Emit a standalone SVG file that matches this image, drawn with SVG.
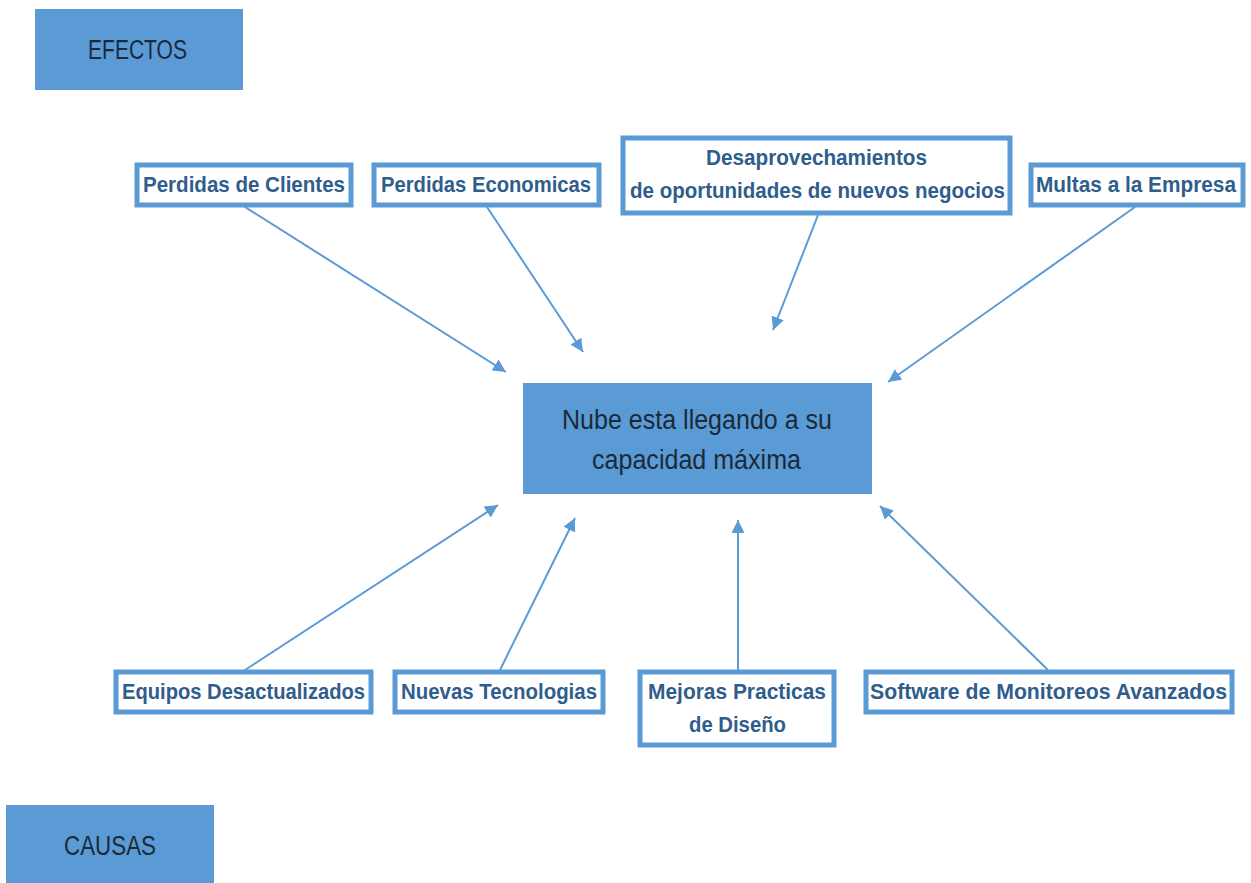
<svg xmlns="http://www.w3.org/2000/svg" width="1251" height="883" viewBox="0 0 1251 883">
<style>
.hdr{fill:#5b9bd5}
.box{fill:#ffffff;stroke:#5b9bd5;stroke-width:5}
.t{font-family:"Liberation Sans Narrow","Liberation Sans",Arial,sans-serif;font-weight:bold;font-size:22px;fill:#2f5d8c}
.h{font-family:"Liberation Sans",Arial,sans-serif;font-size:27px;fill:#1a2a3a}
.c{font-family:"Liberation Sans",Arial,sans-serif;font-size:27px;fill:#1a2a3a}
.con line{stroke:#5b9bd5;stroke-width:2}
</style>
<defs>
<marker id="ah" viewBox="0 0 10 10" refX="10" refY="5" markerWidth="13" markerHeight="13" markerUnits="userSpaceOnUse" orient="auto">
<path d="M0,0 L10,5 L0,10 z" fill="#5b9bd5"/>
</marker>
</defs>
<rect width="1251" height="883" fill="#ffffff"/>
<g id="efectos">
<rect class="hdr" x="35" y="9" width="208" height="81"/>
<text class="h" x="88" y="59" textLength="99" lengthAdjust="spacingAndGlyphs">EFECTOS</text>
</g>
<g id="causas">
<rect class="hdr" x="6" y="805" width="208" height="78"/>
<text class="h" x="64" y="855" textLength="92" lengthAdjust="spacingAndGlyphs">CAUSAS</text>
</g>
<g id="center">
<rect class="hdr" x="523" y="383" width="349" height="111"/>
<text class="c" x="562" y="429" textLength="270" lengthAdjust="spacingAndGlyphs">Nube esta llegando a su</text>
<text class="c" x="592" y="469" textLength="209" lengthAdjust="spacingAndGlyphs">capacidad máxima</text>
</g>
<g id="e1">
<rect class="box" x="137" y="165" width="214" height="40"/>
<text class="t" x="143" y="192" textLength="202" lengthAdjust="spacingAndGlyphs">Perdidas de Clientes</text>
</g>
<g id="e2">
<rect class="box" x="374" y="165" width="225" height="40"/>
<text class="t" x="381" y="192" textLength="210" lengthAdjust="spacingAndGlyphs">Perdidas Economicas</text>
</g>
<g id="e3">
<rect class="box" x="623" y="138" width="387" height="75"/>
<text class="t" x="706" y="165" textLength="221" lengthAdjust="spacingAndGlyphs">Desaprovechamientos</text>
<text class="t" x="630" y="198" textLength="375" lengthAdjust="spacingAndGlyphs">de oportunidades de nuevos negocios</text>
</g>
<g id="e4">
<rect class="box" x="1031" y="165" width="212" height="40"/>
<text class="t" x="1036" y="192" textLength="200" lengthAdjust="spacingAndGlyphs">Multas a la Empresa</text>
</g>
<g id="c1">
<rect class="box" x="116" y="672" width="255" height="40"/>
<text class="t" x="122" y="699" textLength="243" lengthAdjust="spacingAndGlyphs">Equipos Desactualizados</text>
</g>
<g id="c2">
<rect class="box" x="395" y="672" width="208" height="40"/>
<text class="t" x="401" y="699" textLength="196" lengthAdjust="spacingAndGlyphs">Nuevas Tecnologias</text>
</g>
<g id="c3">
<rect class="box" x="640" y="672" width="194" height="73"/>
<text class="t" x="648" y="699" textLength="178" lengthAdjust="spacingAndGlyphs">Mejoras Practicas</text>
<text class="t" x="689" y="732" textLength="97" lengthAdjust="spacingAndGlyphs">de Diseño</text>
</g>
<g id="c4">
<rect class="box" x="866" y="672" width="366" height="40"/>
<text class="t" x="870" y="699" textLength="357" lengthAdjust="spacingAndGlyphs">Software de Monitoreos Avanzados</text>
</g>
<g id="connectors" class="con">
<line x1="245" y1="207" x2="506" y2="372" marker-end="url(#ah)"/>
<line x1="487" y1="207" x2="583" y2="352" marker-end="url(#ah)"/>
<line x1="818" y1="215" x2="773" y2="330" marker-end="url(#ah)"/>
<line x1="1135" y1="207" x2="888" y2="382" marker-end="url(#ah)"/>
<line x1="245" y1="670" x2="498" y2="505" marker-end="url(#ah)"/>
<line x1="500" y1="670" x2="575" y2="518" marker-end="url(#ah)"/>
<line x1="738" y1="670" x2="738" y2="520" marker-end="url(#ah)"/>
<line x1="1048" y1="670" x2="880" y2="506" marker-end="url(#ah)"/>
</g>
</svg>
